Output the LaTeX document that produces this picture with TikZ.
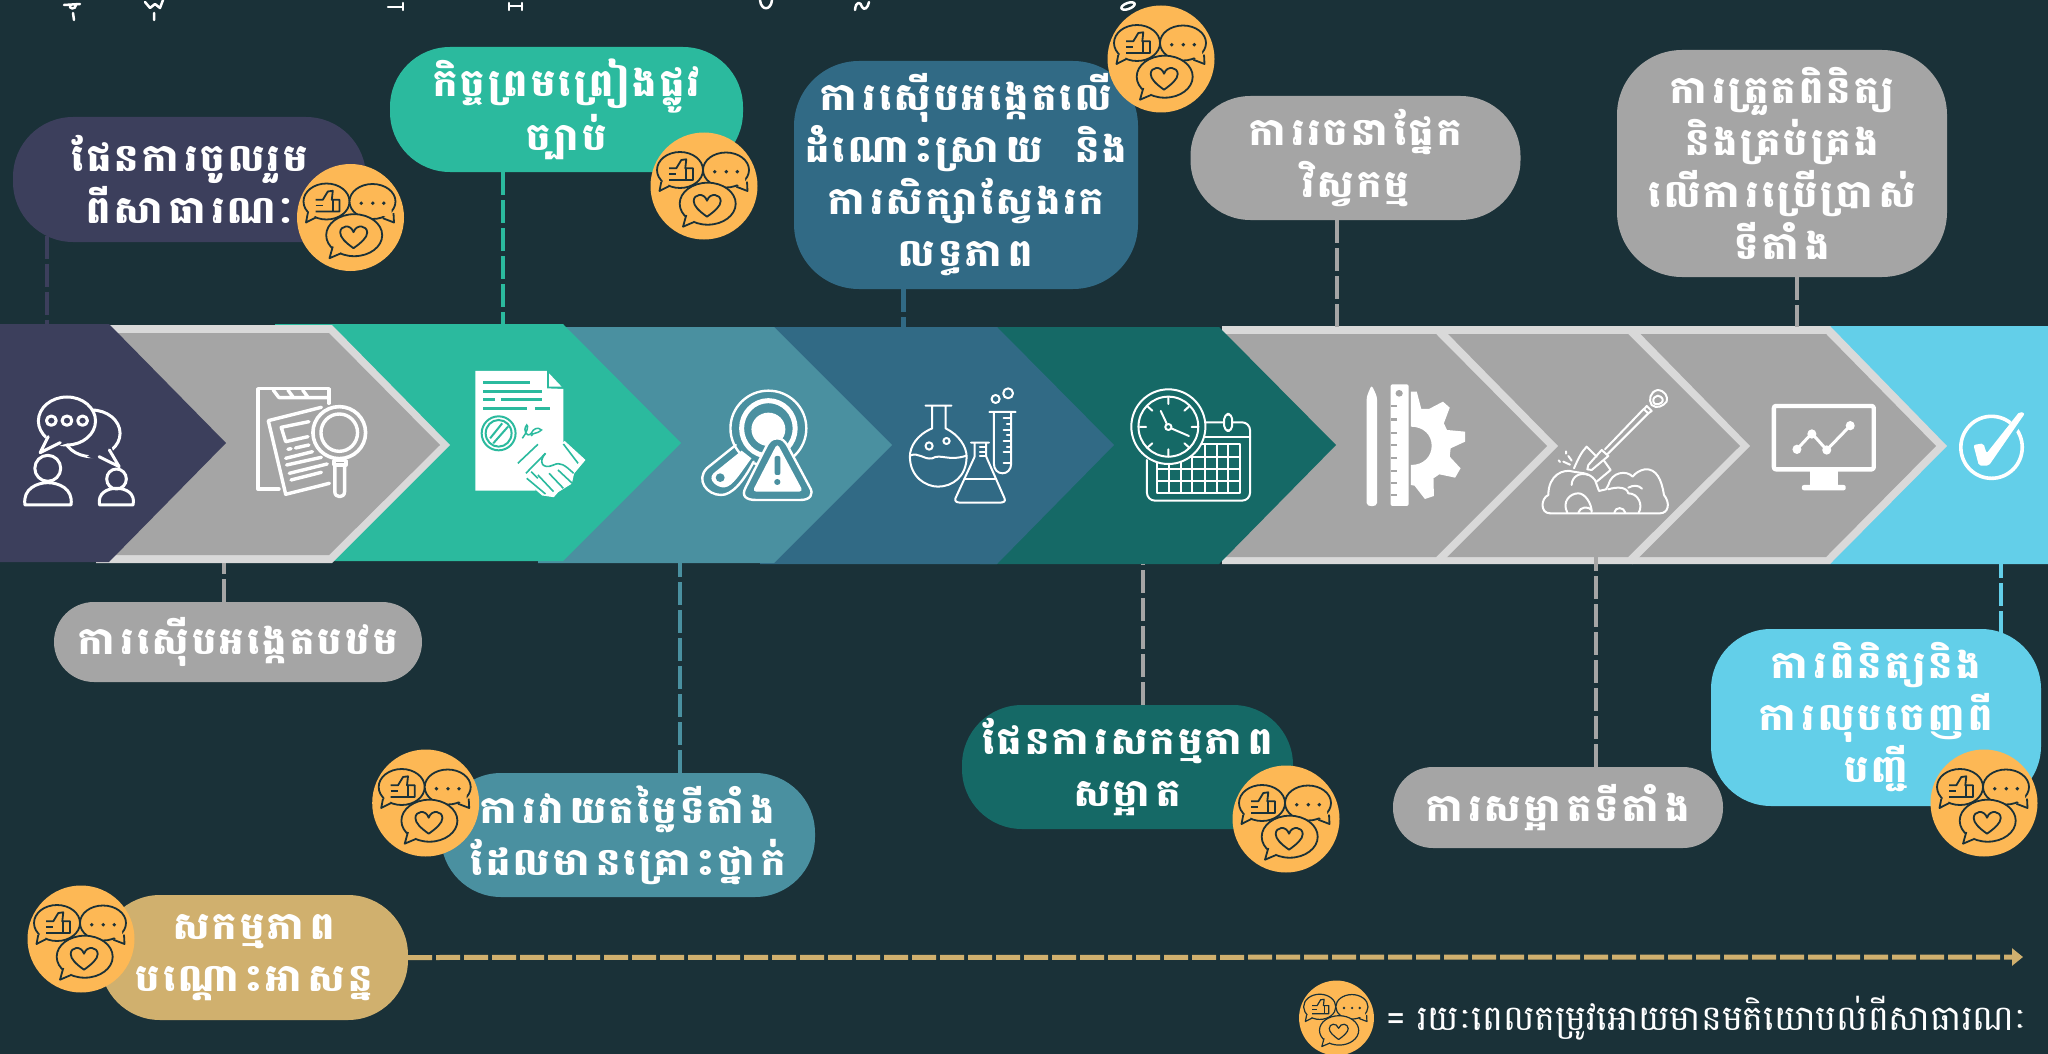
\documentclass[tikz,border=0pt]{standalone}
\usepackage{fontspec}
\usetikzlibrary{arrows.meta}
\newfontfamily\khfont[Script=Khmer,LetterSpace=9]{Battambang}
\newfontfamily\khplain[Script=Khmer]{Battambang}
\definecolor{bgc}{HTML}{1A3138}
\definecolor{navyc}{HTML}{3C3F5C}
\definecolor{greyc}{HTML}{A5A5A5}
\definecolor{edgec}{HTML}{D9D9D9}
\definecolor{tealc}{HTML}{2BBA9E}
\definecolor{seac}{HTML}{4A90A0}
\definecolor{bluec}{HTML}{316A85}
\definecolor{deepc}{HTML}{156966}
\definecolor{cyanc}{HTML}{63CFE9}
\definecolor{sandc}{HTML}{D0B06E}
\definecolor{orangec}{HTML}{FDB855}
\pgfdeclarelayer{under}
\pgfsetlayers{under,main}
\newcommand{\chevron}[7]{% colour, xleft, xtop, xtip, ytop, ymid, ybottom
  \fill[#1] (#2,#5) -- (#3,#5) -- (#4,#6) -- (#3,#7) -- (#2,#7) -- cycle;}
\tikzset{
  pill/.style={rectangle,inner sep=0pt,text=white,align=center,
    font=\khfont\bfseries\fontsize{38}{52}\selectfont},
  dashline/.style={draw=#1,line width=4.5pt,dash pattern=on 23pt off 5pt},
  zb/.style={shift={(#1,310)},x=.4464pt,y=-.3333pt},
  zd/.style={shift={(#1,310)},x=.4515pt,y=-.3333pt},
  wl/.style={draw=white,line width=#1,line join=round,line cap=round},
  cmt/.pic={
    \fill[orangec] (0,0) circle[radius=53.5];
    \begin{scope}[draw=bgc,line join=round]
      \filldraw[fill=orangec] (-24,-16) ellipse[x radius=23,y radius=18];
      \filldraw[fill=orangec] (-42.7,-4.3) -- (-44.5,5) -- (-34.7,0);
      \fill[orangec] (-41,-8) -- (-42,1.5) -- (-32,-3) -- cycle;
      \draw (-35,-17.7) -- (-27.7,-17.7) -- (-22.7,-26) -- (-17.7,-26.7) -- (-18.7,-17.7) -- (-11,-17.7) -- (-11,-6) -- (-35,-6);
      \draw (-35,-12) -- (-27.7,-12) (-17.7,-17.7) -- (-17.7,-6);
      \filldraw[fill=orangec] (22,-16) ellipse[x radius=23,y radius=17.5];
      \filldraw[fill=orangec] (43,-4.3) -- (43.5,5) -- (32.3,0.7);
      \fill[orangec] (41,-8) -- (41,2) -- (30,-3) -- cycle;
      \fill[bgc] (10.7,-14.3) circle[radius=1.9] (22.3,-14.3) circle[radius=1.9] (33.3,-14.3) circle[radius=1.9];
      \filldraw[fill=orangec] (3.7,17.7) ellipse[x radius=28,y radius=21];
      \filldraw[fill=orangec] (-17.7,29) -- (-21,40.7) -- (-9.3,35.7);
      \fill[orangec] (-15,26) -- (-18.6,37.8) -- (-6,33) -- cycle;
      \draw (3,30.7) .. controls (-5,25) and (-10.3,20) .. (-10.3,15) .. controls (-10.3,8) and (0,6) .. (3,14.7) .. controls (6,6) and (16.7,8) .. (16.7,15) .. controls (16.7,20) and (11,25) .. (3,30.7) -- cycle;
    \end{scope}
  }
}
\begin{document}
\begin{tikzpicture}[x=1pt,y=-1pt]
\useasboundingbox (0,0) rectangle (2048,1054);
% Pills
\node[pill,fill=navyc,minimum width=353pt,minimum height=125pt,rounded corners=60pt] (p1) at (189.5,179.5) {ផែនការចូលរួម\\ពីសាធារណៈ};
\node[pill,fill=tealc,minimum width=353pt,minimum height=125pt,rounded corners=60pt] (p2) at (566.5,109.5) {កិច្ចព្រមព្រៀងផ្លូវ\\ច្បាប់};
\node[pill,fill=bluec,minimum width=344pt,minimum height=228pt,rounded corners=65pt] (p3) at (966,175) {ការស៊ើបអង្កេតលើ\\ដំណោះស្រាយ\ \ និង\\ការសិក្សាស្វែងរក\\លទ្ធភាព};
\node[pill,fill=greyc,minimum width=330pt,minimum height=124pt,rounded corners=60pt] (p4) at (1355.5,158) {ការរចនាផ្នែក\\វិស្វកម្ម};
\node[pill,fill=greyc,minimum width=330pt,minimum height=227pt,rounded corners=65pt] (p5) at (1782,163.5) {ការត្រួតពិនិត្យ\\និងគ្រប់គ្រង\\លើការប្រើប្រាស់\\ទីតាំង};
\node[pill,fill=greyc,minimum width=368pt,minimum height=80pt,rounded corners=40pt] (p6) at (238,642) {ការស៊ើបអង្កេតបឋម};
\node[pill,fill=seac,minimum width=374pt,minimum height=124pt,rounded corners=60pt] (p7) at (628,835) {ការវាយតម្លៃទីតាំង\\ដែលមានគ្រោះថ្នាក់};
\node[pill,fill=deepc,minimum width=331pt,minimum height=124pt,rounded corners=60pt] (p8) at (1127.5,767) {ផែនការសកម្មភាព\\សម្អាត};
\node[pill,fill=greyc,minimum width=330pt,minimum height=81pt,rounded corners=40pt] (p9) at (1558,807.5) {ការសម្អាតទីតាំង};
\node[pill,fill=cyanc,minimum width=330pt,minimum height=177pt,rounded corners=60pt] (p10) at (1876,717.5) {ការពិនិត្យនិង\\ការលុបចេញពី\\បញ្ជី};
\node[pill,fill=sandc,minimum width=308pt,minimum height=125pt,rounded corners=60pt] (p11) at (254,957.5) {សកម្មភាព\\បណ្តោះអាសន្ន};
% Speech badges
\pic[line width=1.8pt] (b1) at (350.5,217.5) {cmt};
\pic[line width=1.8pt] (b2) at (704,186) {cmt};
\pic[line width=1.8pt] (b3) at (1161,59) {cmt};
\pic[line width=1.8pt] (b4) at (425.7,803) {cmt};
\pic[line width=1.8pt] (b5) at (1286,819) {cmt};
\pic[line width=1.8pt] (b6) at (1984,803) {cmt};
\pic[line width=1.8pt] (b7) at (81,939) {cmt};
\pic[scale=.7,line width=1.2pt] (b8) at (1336.5,1018) {cmt};
\node[text=white,inner sep=0pt,anchor=west,font=\khplain\fontsize{35}{40}\selectfont] (legend) at (1386,1018) {= រយៈពេលតម្រូវអោយមានមតិយោបល់ពីសាធារណៈ};

\begin{pgfonlayer}{under}
\fill[bgc] (0,0) rectangle (2048,1054);
% cut-off text fragments on the top edge
\begin{scope}[wl=2.5pt]
  \draw (64,5) -- (80,4) (70,5) .. controls (68,9) and (76,10) .. (76,5) (73,13) -- (74,20);
  \draw (145,2) -- (150,8) -- (155,4) -- (160,8) -- (163,0) (154,13) -- (154,20);
  \draw (388,7) -- (402,7) (403,3) -- (403,10);
  \draw (509,3) -- (509,10) (522,3) -- (522,10) (509,6) -- (522,6);
  \draw (760,0) .. controls (761,11) and (771,11) .. (772,0);
  \draw (855,10) .. controls (856,0) and (861,2) .. (862,7) .. controls (864,11) and (868,8) .. (869,2);
  \draw[rotate around={20:(1128,6)}] (1128,6) ellipse[x radius=7,y radius=3];
\end{scope}
% Chevrons, last one first
\chevron{cyanc}{1830}{2060}{2060}{326}{446}{564}
\chevron{edgec}{1632}{1830}{1947}{326}{446}{564}
\chevron{greyc}{1632}{1826}{1936}{334}{446}{557}
\chevron{edgec}{1440}{1632.5}{1750}{326}{446}{564}
\chevron{greyc}{1440}{1628}{1740}{334}{446}{557}
\chevron{edgec}{1222}{1440}{1558}{326}{446}{564}
\chevron{greyc}{1222}{1436}{1547}{334}{446}{557}
\chevron{deepc}{980}{1219}{1336}{327}{445}{564}
\chevron{bluec}{760}{997}{1114}{327}{445}{564}
\chevron{seac}{538}{774}{892}{327}{445}{563}
\chevron{tealc}{275}{563}{681}{324}{443}{561}
\chevron{edgec}{96}{332}{450}{325}{445}{563}
\chevron{greyc}{96}{329}{440}{333}{445}{555}
\chevron{navyc}{-5}{109}{226}{324}{443}{562}
% Connector ends on the band
\coordinate (c1) at (47,324);
\coordinate (c2) at (503,324);
\coordinate (c3) at (903.5,327);
\coordinate (c4) at (1337,327);
\coordinate (c5) at (1797,327);
\coordinate (c6) at (224,563);
\coordinate (c7) at (680,563);
\coordinate (c8) at (1143,564);
\coordinate (c9) at (1596,556);
\coordinate (c10) at (2001,564);
\coordinate (arrowend) at (2023,957);
\draw[dashline=navyc] (p1.center -| c1) -- (c1);
\draw[dashline=tealc] (p2.south -| c2) -- (c2);
\draw[dashline=bluec] (p3.south -| c3) -- (c3);
\draw[dashline=greyc] (p4.south -| c4) -- (c4);
\draw[dashline=greyc] (p5.south -| c5) -- (c5);
\draw[dashline=greyc] (p6.north -| c6) -- (c6);
\draw[dashline=seac] (p7.north -| c7) -- (c7);
\draw[dashline=greyc] (p8.north -| c8) -- (c8);
\draw[dashline=greyc] (p9.north -| c9) -- (c9);
\draw[dashline=cyanc] (p10.center -| c10) -- (c10);
\draw[draw=sandc,line width=5pt,dash pattern=on 24pt off 4pt,-{Triangle[length=11pt,width=17pt,fill=sandc]}] (p11.east) -- (arrowend);
% Icon 1: people talking
\begin{scope}[zb=0]
  \draw[wl=3pt] (205,370) ellipse[x radius=64,y radius=70];
  \fill[navyc] (150,333) ellipse[x radius=64,y radius=72];
  \fill[navyc] (95,380) -- (90,428) -- (160,400) -- cycle (195,440) -- (267,470) -- (245,395) -- cycle;
  \draw[wl=3pt] (245,420) -- (267,470) -- (222,440);
  \draw[wl=3pt] (150,333) ellipse[x radius=64,y radius=72];
  \fill[navyc] (105,375) -- (92,425) -- (150,400) -- cycle;
  \draw[wl=3pt] (108,380) -- (90,428) -- (135,398);
  \draw[wl=3pt] (115,332) ellipse[x radius=11,y radius=14] (150,332) ellipse[x radius=11,y radius=14] (185,332) ellipse[x radius=11,y radius=14];
  \draw[wl=3pt] (107,475) ellipse[x radius=29,y radius=39];
  \draw[wl=3pt] (56,585) .. controls (50,535) and (85,518) .. (107,518) .. controls (130,518) and (165,535) .. (159,585) -- cycle;
  \draw[wl=3pt] (261,507) ellipse[x radius=22,y radius=30];
  \draw[wl=3pt] (223,585) .. controls (218,550) and (240,535) .. (261,535) .. controls (282,535) and (304,550) .. (298,585) -- cycle;
\end{scope}
% Icon 2: document with magnifier
\begin{scope}[zb=0]
  \draw[wl=3.4pt] (737,280) -- (737,236) -- (578,236) -- (578,537) -- (625,537);
  \draw[wl=3.4pt] (612,240) -- (625,263) -- (737,263) (645,240) -- (657,262) (678,240) -- (690,262);
  \draw[wl=3.4pt] (720,292) -- (601,332) -- (640,553) -- (738,520);
  \draw[wl=3.4pt] (692,335) -- (630,352) -- (640,395) -- (690,380);
  \draw[wl=3.4pt] (645,418) -- (652,416) (662,414) -- (692,405) (640,445) -- (700,425) (642,465) -- (720,442) (648,490) -- (733,462) (652,510) -- (720,487);
  \filldraw[fill=greyc,wl=3.6pt] (760,368) ellipse[x radius=59,y radius=78];
  \draw[wl=3.4pt] (760,368) ellipse[x radius=41,y radius=56];
  \draw[wl=3.4pt] (748,452) -- (775,452) -- (775,465) -- (748,465) -- cycle;
  \draw[wl=3.4pt] (750,465) -- (750,545) .. controls (750,565) and (772,565) .. (772,545) -- (772,465);
\end{scope}
% Icon 3: agreement
\begin{scope}[zb=0]
  \fill[white] (1065,183) -- (1225,183) -- (1225,235) -- (1262,237) -- (1262,420) -- (1190,490) -- (1200,542) -- (1065,542) -- cycle;
  \fill[white] (1230,190) -- (1258,230) -- (1230,230) -- cycle;
  \draw[tealc,line width=2.4pt] (1082,218) -- (1188,218) (1082,244) -- (1214,244) (1082,269) -- (1108,269) (1122,269) -- (1214,269) (1082,295) -- (1180,295) (1198,295) -- (1232,295);
  \draw[tealc,line width=2pt] (1117,370) ellipse[x radius=38,y radius=51] (1117,370) ellipse[x radius=29,y radius=40];
  \draw[tealc,line width=2pt] (1098,385) -- (1125,340) (1105,400) -- (1138,350);
  \draw[tealc,line width=1.5pt] (1170,385) .. controls (1180,370) and (1185,345) .. (1180,345) .. controls (1170,360) and (1180,385) .. (1190,370) .. controls (1195,355) and (1205,350) .. (1213,360) .. controls (1200,375) and (1195,365) .. (1190,378);
  \filldraw[fill=white,draw=white,line width=1pt] (1160,460) -- (1205,403) -- (1235,425) -- (1265,395) -- (1310,450) -- (1285,490) -- (1280,520) -- (1250,545) -- (1240,560) -- (1215,555) -- (1185,520) -- (1178,490) -- cycle;
  \draw[tealc,line width=1.6pt] (1178,490) -- (1222,430) (1160,460) -- (1205,403) (1295,460) -- (1262,402);
  \draw[tealc,line width=1.6pt] (1222,430) .. controls (1205,455) and (1215,480) .. (1240,465) .. controls (1255,455) and (1265,465) .. (1285,490);
  \draw[tealc,line width=1.6pt] (1190,485) -- (1205,505) (1180,505) -- (1222,552) (1205,495) -- (1240,545) (1230,490) -- (1262,535) (1250,480) -- (1282,520);
\end{scope}
% Icon 4: magnifier and warning
\begin{scope}[zb=680]
  \draw[wl=2.4pt] (198,355) ellipse[x radius=85,y radius=113];
  \draw[wl=5pt] (198,355) ellipse[x radius=60,y radius=83];
  \fill[white] (198,358) ellipse[x radius=38,y radius=50];
  \fill[seac] (125,405) -- (172,450) -- (150,480) -- (130,400) -- cycle;
  \draw[wl=2.4pt] (125,405) -- (60,475) .. controls (35,510) and (60,555) .. (92,555) .. controls (115,555) and (140,520) .. (165,455);
  \fill[white] (138,422) -- (75,490) .. controls (60,510) and (85,535) .. (100,532) .. controls (118,530) and (135,490) .. (160,445) -- cycle;
  \fill[seac] (90,503) ellipse[x radius=10,y radius=13];
  \filldraw[fill=seac,wl=2.4pt] (218,385) .. controls (205,385) and (200,395) .. (195,405) -- (148,530) .. controls (135,560) and (150,570) .. (170,570) -- (270,570) .. controls (290,570) and (302,555) .. (290,530) -- (240,405) .. controls (235,395) and (230,385) .. (218,385) -- cycle;
  \fill[white,rounded corners=4pt] (218,400) -- (276,545) -- (162,545) -- cycle;
  \fill[seac,rounded corners=2pt] (212,438) rectangle (225,495);
  \fill[seac] (218,516) ellipse[x radius=7,y radius=9];
\end{scope}
% Icon 5: flasks
\begin{scope}[zb=680,wl=2pt]
  \draw (550,287) -- (608,287) (565,287) -- (565,355) .. controls (530,375) and (515,410) .. (515,440) .. controls (515,500) and (550,530) .. (578,530) .. controls (610,530) and (642,500) .. (642,440) .. controls (642,410) and (625,375) .. (595,355) -- (595,287);
  \draw (515,437) .. controls (535,425) and (545,450) .. (565,445) .. controls (585,430) and (600,455) .. (642,437);
  \draw (558,408) ellipse[x radius=8,y radius=11] (597,393) ellipse[x radius=7,y radius=9];
  \filldraw[fill=bluec] (652,398) -- (692,398) (660,398) -- (660,440) -- (617,565) .. controls (615,575) and (620,578) .. (630,578) -- (715,578) .. controls (725,578) and (730,575) .. (727,565) -- (686,440) -- (686,398);
  \draw (637,507) -- (706,507) (672,412) -- (686,412) (672,425) -- (686,425) (672,438) -- (686,438);
  \draw (693,306) -- (752,306) (703,306) -- (703,460) .. controls (703,500) and (742,500) .. (742,460) -- (742,306);
  \draw (725,325) -- (742,325) (732,342) -- (742,342) (725,359) -- (742,359) (732,376) -- (742,376) (725,393) -- (742,393) (732,410) -- (742,410) (725,427) -- (742,427) (725,458) -- (742,458);
  \draw (707,267) ellipse[x radius=9,y radius=12] (735,250) ellipse[x radius=11,y radius=15];
\end{scope}
% Icon 6: clock and calendar
\begin{scope}[zb=680,wl=2pt]
  \draw[rounded corners=8pt] (1170,337) -- (1277,337) -- (1277,572) -- (1046,572) -- (1046,450);
  \draw (1165,382) -- (1277,382);
  \draw (1068,403) rectangle (1255,548);
  \draw (1068,440) -- (1255,440) (1068,478) -- (1255,478) (1068,513) -- (1255,513);
  \foreach \g in {1095,1122,1148,1175,1202,1228} {\draw (\g,403) -- (\g,548);}
  \filldraw[fill=deepc,rounded corners=5pt] (1219,312) rectangle (1237,363);
  \filldraw[fill=deepc] (1094,350) ellipse[x radius=83,y radius=112];
  \draw (1094,350) ellipse[x radius=67,y radius=90];
  \draw (1094,262) -- (1094,282) (1094,418) -- (1094,440) (1030,351) -- (1044,351) (1146,351) -- (1160,351) (1048,290) -- (1058,302) (1140,290) -- (1130,302) (1048,412) -- (1058,400) (1140,412) -- (1130,400);
  \draw (1077,303) -- (1090,340) (1102,356) -- (1140,378);
  \draw (1094,351) ellipse[x radius=7,y radius=9];
\end{scope}
% Icon 7: pencil, ruler and gear
\begin{scope}[zd=1340]
  \fill[white,rounded corners=3pt] (70,225) -- (82,260) -- (82,570) .. controls (82,592) and (59,592) .. (59,570) -- (59,260) -- cycle;
  \fill[white,rounded corners=2pt] (112,223) rectangle (152,588);
  \fill[greyc] (131,250) ellipse[x radius=8,y radius=10];
  \foreach \t in {285,325,365,402,440,480,515,552} {\fill[greyc] (112,\t) rectangle (126,\t+7);}
  \fill[white] (157,245) -- (170,245) -- (180,297) -- (197,297) -- (228,275) -- (243,293) -- (230,340) -- (237,360) -- (277,365) -- (277,395) -- (245,415) -- (243,440) -- (267,475) -- (255,503) -- (220,493) -- (207,505) -- (208,558) -- (188,567) -- (165,527) -- (157,525) -- (157,465) .. controls (185,465) and (203,440) .. (203,407) .. controls (203,375) and (185,350) .. (157,350) -- cycle;
\end{scope}
% Icon 8: shovel in soil
\begin{scope}[shift={(1480,330)},x=.3333pt,y=-.3333pt,wl=2pt]
  \draw (533,180) .. controls (555,182) and (565,200) .. (560,215) .. controls (550,228) and (530,238) .. (515,225) .. controls (505,210) and (510,185) .. (533,180) -- cycle;
  \draw (533,197) .. controls (548,200) and (552,210) .. (545,218) .. controls (535,225) and (522,225) .. (520,215) .. controls (518,205) and (525,198) .. (533,197) -- cycle;
  \draw (500,228) -- (515,243) -- (505,250) -- (492,238) -- cycle;
  \draw (492,236) -- (375,358) (505,250) -- (383,372);
  \draw (365,360) -- (385,378) -- (335,420) -- (322,418) -- (325,405) -- cycle;
  \draw (282,415) .. controls (295,385) and (305,365) .. (320,350) -- (350,380) (372,392) -- (392,420) -- (350,455);
  \draw (210,550) -- (540,550) .. controls (565,550) and (572,520) .. (552,495) .. controls (545,450) and (530,415) .. (495,418) .. controls (480,420) and (465,430) .. (458,440) .. controls (440,420) and (395,425) .. (385,465) -- (378,478) -- (357,483) -- (345,450);
  \draw (345,450) .. controls (325,425) and (300,430) .. (280,425) .. controls (250,415) and (205,435) .. (205,495) .. controls (182,505) and (180,550) .. (210,550);
  \draw (275,465) .. controls (275,440) and (300,425) .. (325,435);
  \draw (262,548) .. controls (245,515) and (270,490) .. (295,490) .. controls (315,490) and (335,520) .. (335,546);
  \draw (295,548) .. controls (300,530) and (325,528) .. (335,540);
  \draw (403,548) .. controls (405,530) and (432,530) .. (436,548);
  \draw (385,478) .. controls (410,470) and (440,470) .. (445,490) .. controls (475,490) and (490,525) .. (476,548);
  \draw (445,473) .. controls (460,465) and (475,465) .. (486,476);
  \draw (236,391) -- (240,396) (250,395) -- (270,404) (258,364) -- (258,371) (265,378) -- (275,392);
\end{scope}
% Icon 9: monitor
\begin{scope}[zd=1340]
  \draw[wl=4.4pt,rounded corners=2pt] (961,288) rectangle (1182,478);
  \fill[white] (1040,478) rectangle (1102,525);
  \fill[white,rounded corners=2pt] (1023,525) rectangle (1120,541);
  \draw[wl=3pt] (1012,418) -- (1045,370) -- (1078,420) -- (1130,347);
  \fill[white] (1012,418) ellipse[x radius=10,y radius=14] (1045,372) ellipse[x radius=10,y radius=14] (1078,420) ellipse[x radius=10,y radius=14] (1130,347) ellipse[x radius=10,y radius=14];
  % Icon 10: check mark
  \draw[wl=3.6pt] (1443,412) ellipse[x radius=68,y radius=93];
  \fill[cyanc] (1395,400) -- (1425,392) -- (1440,440) -- (1505,295) -- (1525,310) -- (1445,475) -- (1410,475) -- cycle;
  \fill[white,rounded corners=2pt] (1403,405) -- (1425,400) -- (1432,430) -- (1505,305) -- (1517,310) -- (1437,467) -- (1415,467) -- cycle;
\end{scope}
\end{pgfonlayer}
\end{tikzpicture}
\end{document}
